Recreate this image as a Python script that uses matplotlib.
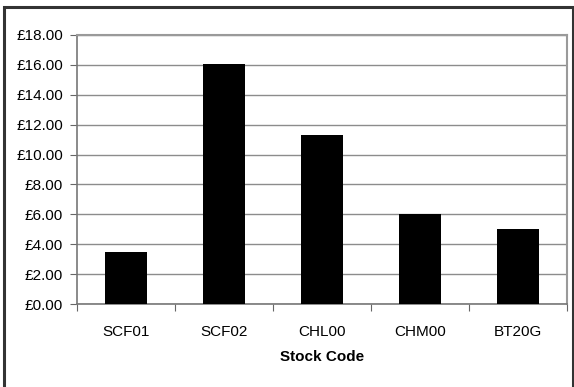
import matplotlib
matplotlib.use("Agg")
from matplotlib import pyplot as plt
from matplotlib.patches import Rectangle
from matplotlib.ticker import FuncFormatter, MultipleLocator

codes = ["SCF01", "SCF02", "CHL00", "CHM00", "BT20G"]
prices = [3.49, 16.05, 11.32, 6.03, 5.04]

plt.rcParams["font.family"] = ["Liberation Sans", "DejaVu Sans"]
plt.rcParams["font.size"] = 11

fig = plt.figure(figsize=(5.74, 3.87), dpi=100)
W, H = 574, 387
ax = fig.add_axes([77 / W, (H - 304) / H, (567 - 77) / W, (304 - 35) / H])

x = range(len(codes))
ax.bar(x, prices, width=0.42, color="black", zorder=3)

ax.set_xlim(-0.5, len(codes) - 0.5)
ax.set_ylim(0, 18)
ax.yaxis.set_major_locator(MultipleLocator(2))
ax.yaxis.set_major_formatter(FuncFormatter(lambda v, p: "£%.2f" % v))
ax.grid(axis="y", color="#8c8c8c", linewidth=1, zorder=0)

# category labels centred, tick marks on the boundaries
ax.set_xticks([i + 0.5 for i in range(-1, len(codes))])
ax.set_xticklabels([])
ax.set_xticks(list(x), minor=True)
ax.set_xticklabels(codes, minor=True)
ax.tick_params(axis="x", which="minor", length=0, pad=15)
ax.tick_params(axis="x", which="major", length=5, direction="out", color="#666666")
ax.tick_params(axis="y", length=5, direction="out", color="#666666", pad=5)

for side in ["top", "right"]:
    ax.spines[side].set_color("#9a9a9a")
    ax.spines[side].set_linewidth(1.5)
ax.spines["left"].set_color("#777777")
ax.spines["bottom"].set_color("#777777")
ax.spines["left"].set_linewidth(1.2)
ax.spines["bottom"].set_linewidth(1.2)

ax.set_xlabel("Stock Code", fontweight="bold", labelpad=8)

# chart border
fig.patches.append(Rectangle((3.5 / W, -0.05), (572.5 - 3.5) / W, 1.05 - 6.5 / H,
                             transform=fig.transFigure, fill=False,
                             edgecolor="#333333", linewidth=2.2))

fig.savefig("out.png", dpi=100)
